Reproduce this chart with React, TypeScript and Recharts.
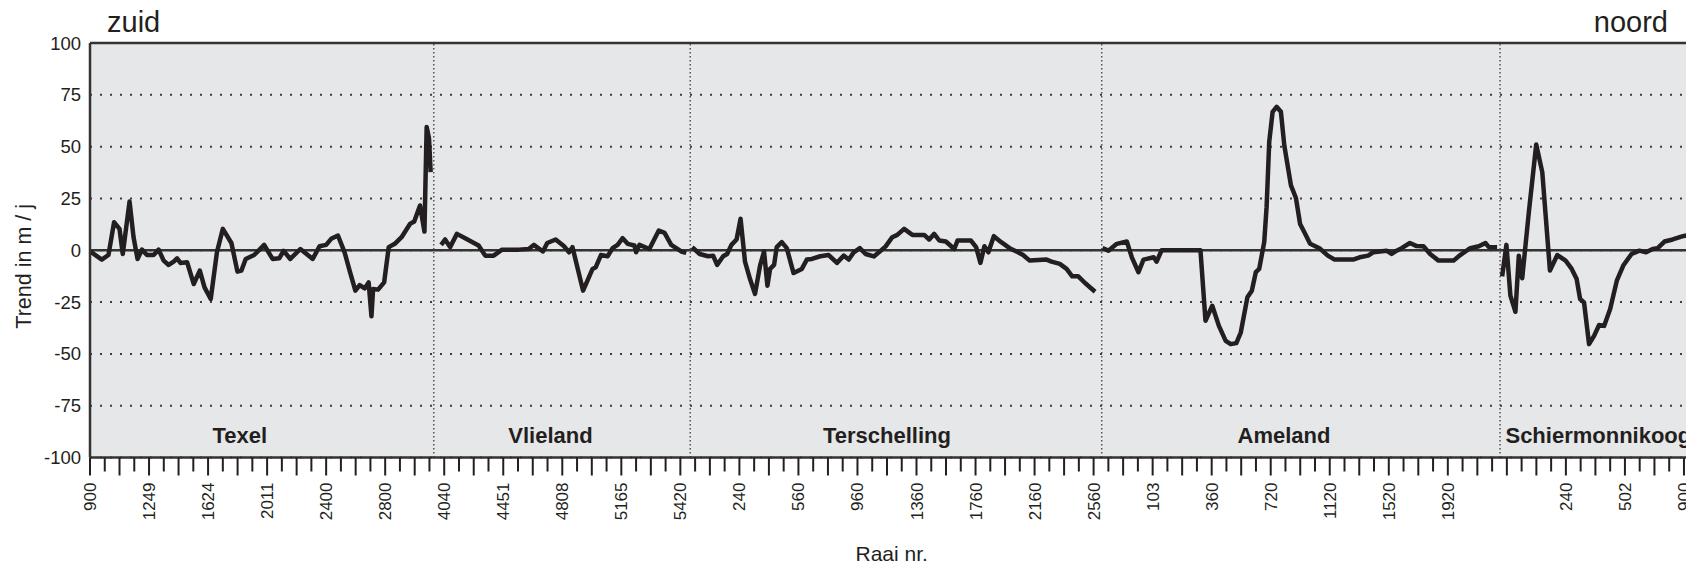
import React from "react";
import { LineChart, Line, XAxis, YAxis, CartesianGrid, ReferenceLine, ReferenceDot } from "recharts";

// trend per raai, [position along the coast (tick units), trend in m/j]
const texel: [number, number][] = [
  [0, -0.5], [0.8, -4.5], [1.25, -2.3], [1.63, 13.5], [2.0, 10.3], [2.22, -1.8], [2.68, 23.5], [2.95, 6.3],
  [3.22, -4.2], [3.52, 0.3], [3.86, -2.3], [4.31, -2.3], [4.65, 0.3], [4.99, -5], [5.33, -7.1], [5.67, -5.5],
  [5.9, -3.9], [6.13, -6.1], [6.58, -5.8], [7.03, -16.3], [7.44, -9.8], [7.76, -17.9], [8.18, -23.5], [8.6, -1],
  [9.0, 10.3], [9.58, 3.5], [9.99, -10.3], [10.26, -9.8], [10.55, -4.2], [11.12, -2.3], [11.8, 2.6], [12.37, -4.2],
  [12.82, -3.9], [13.12, -0.3], [13.57, -4.2], [14.25, 0.6], [15.09, -4.2], [15.55, 1.9], [16.0, 2.6], [16.34, 5.5],
  [16.8, 7.1], [17.25, -1], [17.59, -9.8], [17.98, -19.5], [18.27, -16.8], [18.61, -18.4], [18.88, -15.5],
  [19.07, -31.9], [19.18, -18.7], [19.52, -19], [19.93, -15.5], [20.24, 1.5], [20.65, 3.1], [21.11, 6.3],
  [21.68, 12.7], [21.97, 13.9], [22.36, 21.6], [22.66, 9], [22.81, 59.5], [22.97, 53.9], [23.08, 37.7],
];

const vlieland: [number, number][] = [
  [23.79, 2.6], [24.06, 5.2], [24.4, 1.5], [24.86, 7.9], [25.42, 5.8], [26.33, 2.3], [26.78, -2.6], [27.35, -2.6],
  [27.92, 0.3], [29.05, 0.3], [29.73, 0.6], [30.07, 2.6], [30.69, -0.6], [30.98, 3.5], [31.55, 5.2], [32.12, 1.9],
  [32.46, -1], [32.69, 1.5], [33.41, -19.5], [34.05, -9], [34.27, -8.2], [34.62, -2.3], [35.07, -2.9], [35.41, 1],
  [35.75, 2.6], [36.09, 5.8], [36.43, 3.1], [36.89, 2.3], [37.0, -1], [37.23, 2.6], [37.9, 0.6], [38.54, 9.5],
  [38.93, 8.4], [39.38, 2.6], [40.06, -0.6], [40.4, -1.3],
];

const terschelling: [number, number][] = [
  [40.8, 1.5], [41.31, -1.8], [41.88, -2.9], [42.22, -2.6], [42.49, -7.1], [42.9, -2.9], [43.17, -1.8], [43.46, 2.6],
  [43.81, 5.2], [44.08, 15.2], [44.38, -5.5], [44.72, -13.9], [45.06, -21.1], [45.4, -7.4], [45.67, -0.6],
  [45.9, -17.1], [46.08, -9], [46.35, -7.1], [46.53, 1.5], [46.87, 3.9], [47.21, 1], [47.67, -11], [48.23, -9],
  [48.57, -4.5], [48.91, -4.2], [49.48, -2.9], [50.05, -2.3], [50.61, -6.1], [51.07, -2.6], [51.41, -4.5],
  [51.75, -1], [52.16, 1], [52.55, -1.8], [53.11, -3], [53.45, -1], [53.91, 1.9], [54.36, 6.3], [54.7, 7.4],
  [55.16, 10.3], [55.72, 7.4], [56.52, 7.4], [56.86, 5.2], [57.2, 7.9], [57.54, 4.7], [57.99, 4.2], [58.56, 0.6],
  [58.78, 4.7], [59.69, 4.7], [60.04, 1.5], [60.33, -6.1], [60.6, 1.9], [60.87, -1], [61.24, 6.8], [61.74, 3.9],
  [62.31, 1], [62.88, -1], [63.22, -2.3], [63.67, -5], [64.81, -4.5], [65.15, -5.5], [65.71, -6.6], [66.17, -9],
  [66.55, -12.6], [66.96, -12.6], [67.42, -15.8], [68.1, -20],
];

const ameland: [number, number][] = [
  [68.6, 1], [69.0, -0.2], [69.57, 3.1], [70.25, 4.2], [70.59, -3.4], [71.04, -10.6], [71.38, -4.5], [72.07, -3.4],
  [72.27, -5.5], [72.61, 0], [75.24, 0], [75.58, -34], [76.04, -26.8], [76.49, -36.5], [76.95, -43.7],
  [77.29, -45.3], [77.67, -44.8], [77.97, -39.7], [78.42, -22.7], [78.72, -19.5], [78.99, -10.6], [79.22, -9],
  [79.56, 3.9], [79.72, 20.8], [79.9, 52.3], [80.13, 66.8], [80.4, 69.2], [80.69, 66.8], [80.92, 50.6],
  [81.37, 31.3], [81.71, 25.2], [81.99, 12.7], [82.28, 8.7], [82.67, 3.1], [83.3, 1], [83.87, -2.6], [84.33, -4.5],
  [85.58, -4.5], [86.03, -3.4], [86.6, -2.6], [86.94, -1], [87.85, -0.2], [88.19, -1.8], [88.53, -0.2], [88.87, 1],
  [89.43, 3.5], [89.89, 2], [90.35, 1.9], [90.8, -1.8], [91.37, -5], [92.39, -5], [92.84, -2.3], [93.52, 1],
  [94.1, 1.9], [94.55, 3.5], [94.78, 1.5], [95.34, 1.5],
];

const schiermonnikoog: [number, number][] = [
  [95.68, -12.6], [95.97, 2.6], [96.24, -21.9], [96.58, -29.7], [96.81, -2.6], [97.04, -13.5], [97.49, 18.4],
  [97.99, 51], [98.4, 37.7], [98.92, -9.8], [99.42, -2.3], [99.98, -5], [100.37, -8.7], [100.73, -13.9],
  [100.96, -23.5], [101.23, -25.2], [101.57, -45.3], [101.91, -41.3], [102.25, -36.1], [102.59, -36.5],
  [103.0, -28.4], [103.45, -14.7], [103.91, -7.1], [104.45, -1.8], [104.98, -0.2], [105.43, -1], [105.88, 0.6],
  [106.22, 1], [106.68, 4.2], [107.24, 5.2], [107.93, 6.8], [108.39, 7.4], [108.68, 9.5], [109.3, 12],
];

// label every 4th tick
const raaiLabels = [
  "900", "1249", "1624", "2011", "2400", "2800", "4040", "4451", "4808", "5165", "5420", "240", "560", "960",
  "1360", "1760", "2160", "2560", "103", "360", "720", "1120", "1520", "1920", "", "240", "502", "900",
];

const islandNames = ["Texel", "Vlieland", "Terschelling", "Ameland", "Schiermonnikoog"];
const islandLabelPos = [10.15, 31.2, 54.0, 80.9, 102.2];
const islandBounds = [23.29, 40.67, 68.55, 95.54];

const yTicks = [-100, -75, -50, -25, 0, 25, 50, 75, 100];
const xMax = 112;
const xTicks = Array.from({ length: xMax + 1 }, (_, i) => i);

const series = [texel, vlieland, terschelling, ameland, schiermonnikoog].map((s) =>
  s.map(([x, v]) => ({ x, v }))
);

const INK = "#231f20";

function RaaiTick(props: any) {
  const { x, y, payload } = props;
  const v = payload.value as number;
  const len = v % 2 === 0 ? 18 : 14;
  const label = v % 4 === 0 ? raaiLabels[v / 4] : undefined;
  return (
    <g>
      <line x1={x} y1={y} x2={x} y2={y + len} stroke={INK} strokeWidth={2} />
      {label ? (
        <text transform={`translate(${x + 6},${y + 25}) rotate(-90)`} textAnchor="end" fontSize={17} fill={INK}>
          {label}
        </text>
      ) : null}
    </g>
  );
}

export default function App() {
  return (
    <div style={{ position: "relative", width: 1686, height: 565, overflow: "hidden", fontFamily: "'Liberation Sans', Arial, sans-serif" }}>
      <style>{"body{margin:0}"}</style>
      <LineChart width={1743} height={565} margin={{ top: 43, right: 0, bottom: 0, left: 0 }}>
        <CartesianGrid vertical={false} fill="#e6e7e8" stroke="#3d3d3d" strokeWidth={2} strokeDasharray="2 8" />
        <XAxis
          type="number"
          dataKey="x"
          domain={[0, xMax]}
          ticks={xTicks}
          interval={0}
          tickSize={0}
          tickMargin={0}
          tickLine={false}
          height={107.5}
          axisLine={{ stroke: "#333", strokeWidth: 2.5 }}
          tick={<RaaiTick />}
        />
        <YAxis
          type="number"
          domain={[-100, 100]}
          ticks={yTicks}
          interval={0}
          width={90}
          tickSize={0}
          tickMargin={9}
          tickLine={false}
          axisLine={{ stroke: "#333", strokeWidth: 2.5 }}
          tick={{ fontSize: 18.5, fill: INK }}
        />
        <ReferenceLine y={100} stroke="#333" strokeWidth={2.5} />
        <ReferenceLine y={0} stroke="#333" strokeWidth={2.5} />
        {islandBounds.map((b) => (
          <ReferenceLine key={b} x={b} stroke="#555" strokeWidth={1.5} strokeDasharray="1.5 2.5" />
        ))}
        {islandNames.map((n, i) => (
          <ReferenceDot
            key={n}
            x={islandLabelPos[i]}
            y={-89.4}
            r={0}
            fill="none"
            stroke="none"
            label={{ value: n, position: "center", fontSize: 22, fontWeight: "bold", fill: INK }}
          />
        ))}
        {series.map((d, i) => (
          <Line
            key={islandNames[i]}
            data={d}
            dataKey="v"
            type="linear"
            stroke={INK}
            strokeWidth={4.5}
            strokeLinejoin="round"
            dot={false}
            activeDot={false}
            isAnimationActive={false}
          />
        ))}
      </LineChart>
      <svg width={1686} height={565} style={{ position: "absolute", left: 0, top: 0, pointerEvents: "none" }}>
        <text x={107} y={32} fontSize={29} fill={INK}>zuid</text>
        <text x={1668} y={32} fontSize={29} fill={INK} textAnchor="end">noord</text>
        <text transform="translate(30.5,266.3) rotate(-90)" textAnchor="middle" fontSize={21.5} fill={INK}>
          Trend in m / j
        </text>
        <text x={891.7} y={560.5} textAnchor="middle" fontSize={21} fill={INK}>Raai nr.</text>
      </svg>
    </div>
  );
}
